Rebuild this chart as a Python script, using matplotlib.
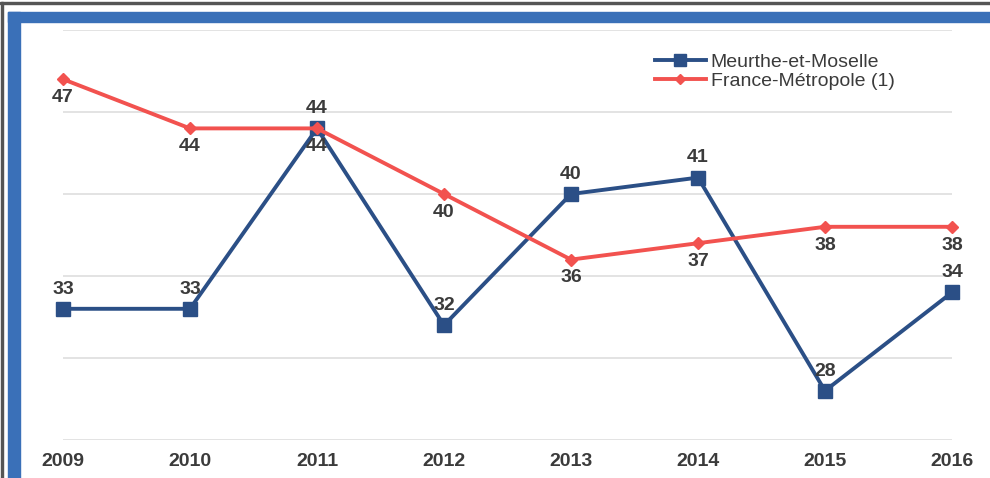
import matplotlib.pyplot as plt
from matplotlib.patches import Rectangle
from matplotlib.lines import Line2D

years = [2009, 2010, 2011, 2012, 2013, 2014, 2015, 2016]
meurthe = [33, 33, 44, 32, 40, 41, 28, 34]
france = [47, 44, 44, 40, 36, 37, 38, 38]
series_names = ["Meurthe-et-Moselle", "France-Métropole (1)"]

BLUE = "#2b4f86"
RED = "#f2524f"
TEXT = "#3b3b3b"
FS = 14

plt.rcParams['font.family'] = ['Liberation Sans', 'DejaVu Sans']

fig = plt.figure(figsize=(9.9, 4.78), dpi=100)
fig.patch.set_facecolor("white")

# outer frame: grey rule and the blue band along the top and left
fig.patches.append(Rectangle((0, 1 - 4 / 478), 1, 2 / 478, transform=fig.transFigure,
                             color="#555555", zorder=0))
fig.patches.append(Rectangle((1 / 990, 0), 2 / 990, 1 - 2 / 478, transform=fig.transFigure,
                             color="#555555", zorder=0))
fig.patches.append(Rectangle((8 / 990, 1 - 22 / 478), 1 - 8 / 990, 10 / 478,
                             transform=fig.transFigure, color="#3a70b8", zorder=0))
fig.patches.append(Rectangle((8 / 990, 0), 12 / 990, 1 - 12 / 478,
                             transform=fig.transFigure, color="#3a70b8", zorder=0))

ax = fig.add_axes([63 / 990, 38 / 478, 889 / 990, 410 / 478])
ax.set_xlim(2009, 2016)
ax.set_ylim(25, 50)
ax.set_yticks(range(25, 51, 5))
ax.yaxis.grid(True, color="#e3e3e3", linewidth=1.4)
ax.set_axisbelow(True)
for s in ax.spines.values():
    s.set_visible(False)
ax.tick_params(axis="y", left=False, labelleft=False)
ax.tick_params(axis="x", length=0, pad=9)
ax.set_xticks(years)
ax.set_xticklabels([str(y) for y in years], fontsize=FS, fontweight="bold", color=TEXT)

ax.plot(years, meurthe, color=BLUE, linewidth=2.8, marker="s", markersize=10,
        clip_on=False, zorder=3)
ax.plot(years, france, color=RED, linewidth=2.8, marker="D", markersize=6,
        clip_on=False, zorder=4)

for x, v in zip(years, meurthe):
    ax.annotate(str(v), (x, v), xytext=(0, 8), textcoords="offset points",
                ha="center", va="bottom", fontsize=FS, fontweight="bold", color=TEXT)
for x, v in zip(years, france):
    ax.annotate(str(v), (x, v), xytext=(0, -7), textcoords="offset points",
                ha="center", va="top", fontsize=FS, fontweight="bold", color=TEXT)

handles = [
    Line2D([], [], color=BLUE, linewidth=2.8, marker="s", markersize=8),
    Line2D([], [], color=RED, linewidth=2.8, marker="D", markersize=5),
]
leg = ax.legend(handles, series_names, loc="upper right", bbox_to_anchor=(0.955, 0.985),
                frameon=False, fontsize=FS, handlelength=2.6, handletextpad=0.25,
                labelspacing=0.05)
for t in leg.get_texts():
    t.set_color(TEXT)

fig.savefig("out.png", dpi=100)
